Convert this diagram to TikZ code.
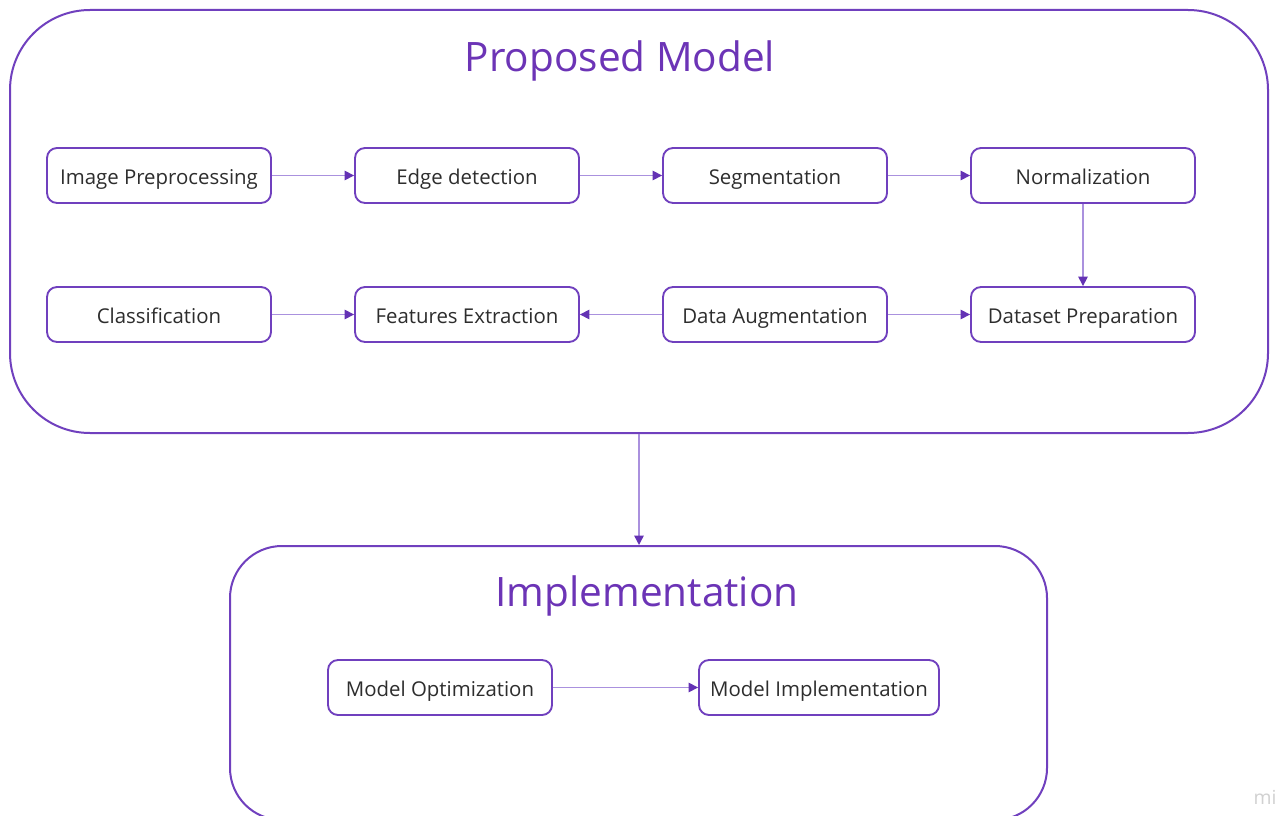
\documentclass[tikz,border=0pt]{standalone}
\usepackage{fontspec}
\setmainfont{Open Sans}
\usetikzlibrary{arrows.meta}
\definecolor{frame}{RGB}{112,64,190}
\definecolor{titlec}{RGB}{108,52,182}
\definecolor{linkc}{RGB}{170,145,222}
\definecolor{tipc}{RGB}{100,50,180}
\definecolor{textc}{RGB}{45,45,45}
\begin{document}
\begin{tikzpicture}[x=0.75pt,y=-0.75pt,
  stepbox/.style={draw=frame,line width=1.4pt,rounded corners=7.5pt,fill=white,
    minimum width=168pt,minimum height=41.25pt,inner sep=0pt,
    text height=14pt,text depth=0.5pt,
    font=\fontsize{15.3}{18}\selectfont,text=textc},
  groupbox/.style={draw=frame,line width=1.5pt,inner sep=0pt},
  grouptitle/.style={font=\fontsize{30.4}{36}\selectfont,text=titlec,
    text height=22pt,text depth=7pt,inner sep=0pt},
  link/.style={draw=linkc,line width=1.1pt,
    -{Triangle[color=tipc,length=7pt,width=7pt]}}
]
\clip (0,0) rectangle (1277,816);
\fill[white] (0,0) rectangle (1277,816);

% outer groups
\node[groupbox,rounded corners=60pt,minimum width=943.5pt,minimum height=317.25pt]
  (proposed) at (639,221.5) {};
\node[groupbox,rounded corners=39pt,minimum width=612.75pt,minimum height=205.5pt]
  (impl) at (638.5,683) {};
\node[grouptitle] (tproposed) at (620,62) {Proposed Model};
\node[grouptitle] (timpl) at (647,596) {Implementation};

% first row
\node[stepbox] (pre) at (159,175.5) {Image Preprocessing};
\node[stepbox] (edge) at (467,175.5) {Edge detection};
\node[stepbox] (seg) at (775,175.5) {Segmentation};
\node[stepbox] (norm) at (1083,175.5) {Normalization};

% second row
\node[stepbox] (cls) at (159,314.5) {Classification};
\node[stepbox] (feat) at (467,314.5) {Features Extraction};
\node[stepbox] (aug) at (775,314.5) {Data Augmentation};
\node[stepbox] (data) at (1083,314.5) {Dataset Preparation};

% implementation steps
\node[stepbox] (opt) at (440,687.5) {Model Optimization};
\node[stepbox,minimum width=180pt] (mimp) at (819,687.5) {Model Implementation};

% connectors
\draw[link] (pre) -- (edge);
\draw[link] (edge) -- (seg);
\draw[link] (seg) -- (norm);
\draw[link] (norm) -- (data);
\draw[link] (cls) -- (feat);
\draw[link] (aug) -- (feat);
\draw[link] (aug) -- (data);
\draw[link] (opt) -- (mimp);
\draw[link] (proposed.south) -- (proposed.south |- impl.north);

% watermark
\node[anchor=west,text=black!18,font=\fontsize{14.5}{17}\selectfont] (mark) at (1249,797) {mi};
\end{tikzpicture}
\end{document}
